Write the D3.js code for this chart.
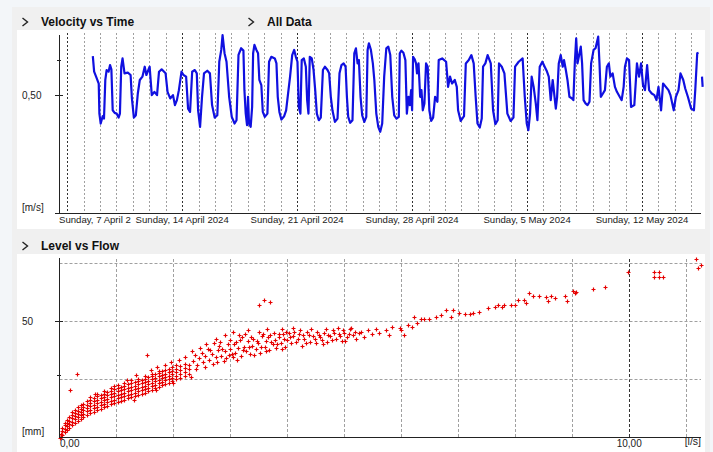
<!DOCTYPE html>
<html>
<head>
<meta charset="utf-8">
<script src="https://cdn.jsdelivr.net/npm/d3@7"></script>
<style>
  body { margin: 0; background: #f3f6f9; }
  svg { display: block; font-family: "Liberation Sans", Arial, sans-serif; }
</style>
</head>
<body>
<script>
// velocity series: days since Sunday 7 April 2024 00:00, value in m/s (null = gap)
var velocityDay = [
  1.56,1.64,1.80,1.92,1.96,2.04,2.16,2.24,2.32,2.40,2.52,2.61,2.69,2.77,2.89,3.01,3.13,3.21,3.29,3.37,
  3.49,3.69,3.86,3.94,4.06,4.18,4.30,4.42,4.58,4.72,4.82,5.02,5.15,5.31,5.47,5.59,5.75,5.99,6.11,6.27,
  6.44,6.56,6.68,6.80,6.96,7.08,7.24,7.36,7.48,7.61,7.77,7.89,7.97,8.09,8.21,8.33,8.53,8.69,8.82,8.98,
  9.14,9.26,9.38,9.46,9.58,9.70,9.86,10.02,10.19,10.31,10.43,10.59,
  10.73,10.79,10.87,10.95,11.01,11.07,11.17,11.26,11.32,11.40,11.52,11.62,11.70,11.82,11.91,12.03,12.19,
  12.29,12.43,12.64,12.74,12.82,12.92,13.04,13.21,13.33,13.45,13.57,13.70,13.82,13.92,14.02,14.10,14.20,
  14.28,14.41,14.53,14.61,14.69,14.77,14.89,15.00,15.10,15.20,15.32,15.44,15.57,15.69,15.85,15.95,16.05,
  16.15,16.30,16.46,16.58,16.70,16.83,16.95,17.03,17.11,17.23,17.37,17.48,17.58,17.68,17.76,17.86,17.96,
  18.09,18.21,18.29,18.37,18.49,18.61,18.70,18.82,18.94,19.06,19.18,19.30,19.43,19.55,19.67,19.79,19.91,
  20.05,20.19,
  20.25,20.35,20.47,20.59,20.68,20.78,20.86,20.94,21.00,21.06,21.16,21.24,21.30,21.39,21.49,21.57,21.65,
  21.75,21.85,21.95,22.05,22.16,22.28,22.40,22.54,22.62,22.83,23.07,23.19,23.31,23.43,23.60,23.72,23.80,
  23.96,24.16,24.27,24.45,24.61,24.75,24.87,24.98,25.12,25.24,25.32,25.46,25.60,25.79,25.93,26.07,26.21,
  26.29,26.46,26.62,26.80,27.00,27.17,27.27,27.49,27.73,27.86,27.98,28.08,28.18,28.28,28.40,28.53,28.63,
  28.77,28.93,29.07,29.19,29.32,29.44,29.56,29.75,
  29.83,29.93,30.05,30.17,30.25,30.36,30.46,30.58,30.74,30.82,30.91,30.99,31.07,31.15,31.27,31.35,31.44,
  31.56,31.68,31.80,31.90,32.05,32.17,32.33,32.41,32.49,32.62,32.74,32.86,32.98,33.07,33.21,33.35,33.47,
  33.64,33.76,33.88,33.96,34.08,34.21,34.33,34.53,34.69,34.82,34.94,35.06,35.18,35.31,35.43,35.59,35.75,
  35.88,36.00,36.16,36.28,36.45,36.61,36.73,36.93,37.06,37.22,37.34,37.51,37.63,37.79,37.99,38.16,38.24,
  38.36,38.44,38.55,38.65,38.69
];
var velocity = [
  .665,.599,.571,.549,.422,.380,.411,.401,.564,.606,.599,.627,.609,.436,.425,.422,.405,.422,.620,.655,
  .592,.595,.585,.486,.405,.415,.507,.564,.578,.620,.585,.620,.500,.514,.500,.599,.609,.592,.514,.486,
  .500,.458,.479,.521,.599,.585,.578,.443,.429,.599,.606,.592,.436,.366,.493,.592,.603,.592,.458,.405,
  .415,.641,.691,.754,.677,.641,.493,.408,.380,.394,.670,.698,
  .688,.521,.422,.373,.493,.380,.366,.450,.677,.712,.691,.677,.564,.542,.429,.408,.422,
  .641,.662,.655,.634,.493,.429,.397,.411,.436,.507,.578,.669,.691,.662,.641,.450,.422,
  .648,.655,.620,.479,.422,.662,.655,.606,.521,.422,.394,.405,.606,.620,.606,.592,.493,
  .436,.387,.401,.592,.627,.634,.620,.493,.408,.383,.394,.677,.698,.634,.648,.493,.415,
  .387,.408,.691,.719,.691,.634,.564,.422,.366,.345,.380,.578,.698,.705,.670,.493,.415,
  .401,.408,
  .677,.688,.679,.648,.422,.493,.458,.521,.436,.662,.651,.634,.592,.634,.493,.521,.436,
  .465,.634,.620,.436,.391,.405,.493,.472,.648,.655,.641,.535,.578,.549,.564,.535,.436,
  .391,.411,.634,.648,.669,.634,.493,.380,.363,.401,.620,.634,.669,.634,.436,.377,.394,
  .634,.620,.592,.422,.391,.405,.620,.641,.655,.493,.380,.352,.422,.578,.535,.465,.394,
  .620,.641,.620,.603,.578,.479,.564,.443,
  .493,.634,.669,.620,.648,.606,.564,.493,.486,.479,.641,.740,.634,.662,.705,.634,.479,
  .465,.458,.472,.634,.691,.698,.747,.634,.493,.507,.521,.620,.634,.578,.592,.535,.514,
  .493,.479,.535,.620,.655,.648,.450,.458,.634,.578,.634,.542,.521,.627,.521,.507,.500,
  .479,.535,.436,.549,.535,.521,.500,.436,.493,.521,.592,.564,.528,.493,.443,.436,.521,
  .677,.679,null,.578,.535
];
var timeDomain = ["2024-04-06 12:45", "2024-05-15 20:00"];
var velocityTicks = [0.5];
var velocityMinorTicks = [0.65];

// level vs flow scatter: dense band as [flow, [levels]] columns, rest as [flow, level]
var denseColumns = [
  [0.00,[0.0]],
  [0.02,[0.4,1.6]],
  [0.05,[1.2,2.8,4.1]],
  [0.09,[2.3,3.7,5.2,6.4]],
  [0.13,[3.4,4.9,6.3,7.6]],
  [0.17,[4.2,5.8,7.1,8.7]],
  [0.22,[5.3,6.7,8.2,9.6,10.8]],
  [0.27,[6.2,7.8,9.1,10.7,12.0]],
  [0.32,[7.1,8.6,10.2,11.6,12.9]],
  [0.37,[8.0,9.5,11.1,12.4,13.8]],
  [0.42,[8.8,10.3,11.8,13.2,14.6]],
  [0.48,[9.6,11.2,12.6,14.1,15.5]],
  [0.54,[10.4,11.9,13.4,14.8,16.2,17.3]],
  [0.60,[11.1,12.6,14.1,15.6,17.0]],
  [0.66,[11.8,13.3,14.7,16.2,17.7,18.6]],
  [0.72,[12.4,13.9,15.3,16.8,18.3]],
  [0.78,[13.0,14.6,16.0,17.5,18.9,19.8]],
  [0.84,[13.6,15.1,16.6,18.1,19.6]],
  [0.90,[14.2,15.7,17.2,18.7,20.1,21.2]],
  [0.96,[14.7,16.2,17.7,19.2,20.7]],
  [1.02,[15.2,16.8,18.3,19.8,21.3,22.4]],
  [1.08,[15.8,17.3,18.8,20.3,21.8]],
  [1.14,[16.3,17.8,19.3,20.8,22.3,23.4]],
  [1.20,[16.8,18.3,19.8,21.3,22.8]],
  [1.26,[17.3,18.8,20.3,21.9,23.4,24.5]],
  [1.32,[17.8,19.3,20.8,22.3,23.8]],
  [1.38,[18.3,19.8,21.3,22.8,24.3,25.3]],
  [1.44,[18.8,20.3,21.8,23.3,24.8]],
  [1.50,[19.3,20.8,22.3,23.8,25.3,26.3]],
  [1.56,[19.9,21.4,22.9,24.4,25.9]],
  [1.62,[20.5,22.0,23.5,25.0,26.5,27.4]],
  [1.68,[21.1,22.6,24.1,25.6,27.1]],
  [1.74,[21.8,23.3,24.8,26.3,27.8,28.6]],
  [1.80,[22.4,23.9,25.4,26.9,28.4]],
  [1.86,[23.0,24.5,26.0,27.5,29.0]],
  [1.92,[23.6,25.1,26.6,28.1,29.6]],
  [1.98,[24.2,25.7,27.2,28.7,30.2]],
  [2.05,[25.0,26.5,28.0,29.5,31.0]],
  [2.12,[25.7,27.4,29.0,30.6]],
  [2.20,[26.6,28.3,29.9,31.6]],
  [2.28,[27.4,29.4,31.3]]
];
var sparsePoints = [
  [0.18,20.3],[0.31,27.2],[0.62,18.6],[0.95,22.3],[1.18,24.6],[1.35,26.8],[1.53,35.3],[1.60,28.9],
  [1.72,30.4],[1.85,31.3],[1.95,32.6],[2.10,33.4],[2.20,34.5],[1.30,16.2],[1.70,20.5],[2.00,23.4],[2.30,25.8],
  [2.35,33],[2.38,35.5],[2.42,31],[2.45,34],[2.50,36.5],[2.52,32.5],[2.56,35],[2.60,38],[2.63,33.5],
  [2.67,36],[2.70,31.5],[2.74,34.5],[2.78,37.5],[2.80,39.5],[2.84,35],[2.88,33],[2.90,37],[2.95,40],
  [2.97,35.5],[3.00,38],[3.04,34.5],[3.08,36.5],[3.10,41],[3.14,38.5],[3.18,35],[3.20,43],[3.24,39],
  [3.27,37],[3.30,41.5],[3.34,36],[3.38,39.5],[3.40,42.5],[3.45,38],[3.48,40.5],[3.52,36.5],[3.55,43.5],
  [3.60,39],[3.63,41.5],[3.67,37.5],[3.70,44],[3.74,40],[3.78,42],[3.80,38.5],[3.85,43],[3.88,40.5],
  [3.92,44.5],[3.95,39],[4.00,42],[4.03,45],[4.07,40.5],[4.10,43.5],[4.15,41],[4.20,44.5],[4.25,39.5],
  [4.30,42.5],[4.35,45.5],[4.40,41],[4.45,43.5],[4.50,40.5],[4.55,44],
  [2.33,37],[2.40,29.5],[2.47,38.5],[2.55,30.5],[2.58,40],[2.65,37.5],[2.72,40.5],[2.77,32.5],[2.82,41],
  [2.86,38],[2.93,34],[2.99,42],[3.02,36],[3.06,40],[3.12,33.5],[3.16,42],[3.22,37.5],[3.26,44.5],
  [3.32,39],[3.36,43],[3.42,35.5],[3.46,41.5],[3.53,39],[3.58,44.5],[3.62,37],[3.66,43],[3.72,41],
  [3.76,45],[3.82,40],[3.86,44.5],[3.90,38],[3.94,42.5],[3.98,45.5],[4.05,43],[4.12,45.5],[4.18,42.5],
  [4.22,46],[4.28,44],[4.32,40.5],[4.38,44],[4.42,46.5],[4.48,42.5],[4.52,45.5],[4.58,43],[4.62,40],
  [4.68,46.5],[4.72,44],[4.78,42],[4.82,45],[4.88,47],[4.92,43.5],[4.98,46],[5.02,41.5],[5.08,44.5],
  [5.12,47],[5.18,45.5],
  [2.75,42.5],[2.90,44],[3.05,45.5],[3.15,44],[3.30,46],[3.50,45.5],[3.65,46.5],[3.90,46.5],[4.10,47],
  [3.50,56.9],[3.59,59.1],[3.69,58.2],
  [4.60,42],[4.65,45],[4.70,41],[4.75,43.5],[4.80,46],[4.85,42.5],[4.90,44.5],[4.95,41.5],[5.00,45],
  [5.05,43],[5.10,46.5],[5.15,44],[5.20,42.5],
  [5.25,44.8],[5.30,45.3],[5.35,43],[5.41,46],[5.48,44.5],[5.55,46.5],[5.60,45],[5.73,46],[5.78,44],
  [5.83,47.4],[5.97,47],[6.00,46],[6.05,44],[6.11,48.3],[6.18,47.5],[6.23,51.7],[6.27,49],[6.34,50.9],
  [6.40,51],[6.48,51],[6.60,51.7],[6.70,52.6],[6.78,54.7],[6.87,51.7],[6.90,54.7],[7.02,53.6],[7.12,53],
  [7.20,53],[7.26,53.6],[7.37,53.8],[7.52,55.6],[7.64,55.9],[7.69,56.8],[7.76,56],[7.81,56.8],[7.92,56.8],
  [7.99,56.8],[8.05,58.9],[8.15,58.9],[8.18,57.9],[8.24,61.9],[8.31,60.9],[8.41,60.9],[8.54,60.5],
  [8.57,58.8],[8.62,60.9],[8.69,59.8],[8.87,60.9],[8.91,58.8],[9.01,62.9],[9.05,62],[9.07,62.6],
  [9.37,63.8],[9.58,64.8],[9.98,71],[10.44,69.1],[10.44,71],[10.52,69.1],[10.52,71],[10.59,68.8],
  [11.17,76.7],[11.21,73],[11.26,74.1]
];
var flowDomain = [0, 11.26];
var levelDomain = [0, 76.7];
var flowGrid = [1,2,3,4,5,6,7,8,9,10,11];
var flowLabels = [0, 10];
var levelGrid = [25, 50, 75];
var levelLabels = [50];
var levelMinorTicks = [27];

var width = 713, height = 452;
var fmtComma = function(v, n) { return v.toFixed(n).replace(".", ","); };

var svg = d3.select("body").append("svg")
  .attr("width", width)
  .attr("height", height);

// panels
svg.append("rect").attr("x",0).attr("y",0).attr("width",width).attr("height",height).attr("fill","#f3f6f9");
svg.append("rect").attr("x",12).attr("y",7).attr("width",698).attr("height",446).attr("fill","#f0f0f0");
svg.append("rect").attr("x",17).attr("y",30).attr("width",688).attr("height",199).attr("fill","#fff");
svg.append("rect").attr("x",17).attr("y",254).attr("width",688).attr("height",198).attr("fill","#fff");

var headers = [
  {text:"Velocity vs Time", cx:22, tx:41, y:26},
  {text:"All Data", cx:248, tx:267, y:26},
  {text:"Level vs Flow", cx:22, tx:41, y:250}
];
headers.forEach(function(h) {
  svg.append("polyline")
    .attr("points", [[h.cx+0.5,h.y-8],[h.cx+5.5,h.y-4],[h.cx+0.5,h.y]].join(" "))
    .attr("fill","none").attr("stroke","#222").attr("stroke-width",1.4);
  svg.append("text").attr("x",h.tx).attr("y",h.y)
    .attr("font-size","12px").attr("font-weight","bold").attr("fill","#111")
    .text(h.text);
});

// ---- velocity vs time ----
var parse = d3.timeParse("%Y-%m-%d %H:%M");
var day0 = new Date(2024, 3, 7);
var timeScale = d3.scaleTime()
  .domain(timeDomain.map(parse))
  .range([59.5, 705]);
var velScale = d3.scaleLinear()
  .domain([0, 0.754])
  .range([213.5, 35]);

var days = d3.timeDay.range(d3.timeDay.ceil(timeScale.domain()[0]), timeScale.domain()[1]);
svg.selectAll(".dayGrid")
  .data(days)
  .enter()
  .append("line")
  .attr("class","dayGrid")
  .attr("x1", function(d) { return Math.round(timeScale(d)) + 0.5; })
  .attr("x2", function(d) { return Math.round(timeScale(d)) + 0.5; })
  .attr("y1", 33)
  .attr("y2", 213)
  .attr("stroke", function(d) { return d.getDay() === 0 ? "#333" : "#a0a0a0"; })
  .attr("stroke-dasharray", "2,2");

var velData = velocityDay.map(function(d, i) {
  return {t: d3.timeMinute.offset(day0, Math.round(d * 1440)), v: velocity[i]};
});
var velLine = d3.line()
  .defined(function(d) { return d.v != null; })
  .x(function(d) { return timeScale(d.t); })
  .y(function(d) { return velScale(d.v); });
svg.append("path")
  .datum(velData)
  .attr("d", velLine)
  .attr("fill","none")
  .attr("stroke","#1010e0")
  .attr("stroke-width",2.2)
  .attr("stroke-linejoin","round");

// axes
svg.append("line").attr("x1",59.5).attr("x2",59.5).attr("y1",35).attr("y2",213.5).attr("stroke","#222");
svg.append("line").attr("x1",55).attr("x2",701).attr("y1",213.5).attr("y2",213.5).attr("stroke","#222");
velocityTicks.forEach(function(v) {
  var y = Math.round(velScale(v)) + 0.5;
  svg.append("line").attr("x1",55).attr("x2",63).attr("y1",y).attr("y2",y).attr("stroke","#222");
  svg.append("text").attr("x",22).attr("y",y+3.5).attr("font-size","10px").attr("fill","#222").text(fmtComma(v,2));
});
velocityMinorTicks.forEach(function(v) {
  var y = Math.round(velScale(v)) + 0.5;
  svg.append("line").attr("x1",57).attr("x2",61).attr("y1",y).attr("y2",y).attr("stroke","#222");
});
svg.append("text").attr("x",22).attr("y",211).attr("font-size","10px").attr("fill","#222").text("[m/s]");

var sundays = d3.timeSunday.range(d3.timeDay.ceil(timeScale.domain()[0]), timeScale.domain()[1]);
var fmtDate = d3.timeFormat("%A, %-d %B %Y");
var labels = svg.selectAll(".dateLabel")
  .data(sundays)
  .enter()
  .append("text")
  .attr("class","dateLabel")
  .attr("x", function(d) { return timeScale(d); })
  .attr("y", 223)
  .attr("text-anchor","middle")
  .attr("font-size","9.6px")
  .attr("fill","#222")
  .text(fmtDate);
var lefts = [];
labels.each(function() {
  var w = this.getComputedTextLength();
  var x = +this.getAttribute("x");
  if (x - w / 2 < 59) {
    d3.select(this).attr("x", 59).attr("text-anchor","start");
    lefts.push(59);
  } else {
    lefts.push(x - w / 2);
  }
});
// a label that runs into the next one is cut short, as in the source chart
labels.each(function(d, i) {
  if (i + 1 < lefts.length) {
    var t = d3.select(this), s = t.text();
    while (s.length > 1 && lefts[i] + this.getComputedTextLength() > lefts[i + 1] + 0.5) {
      s = s.slice(0, -1);
      t.text(s);
    }
  }
});

// ---- level vs flow ----
var flowScale = d3.scaleLinear().domain(flowDomain).range([59.5, 701]);
var levelScale = d3.scaleLinear().domain(levelDomain).range([437.5, 259]);

svg.selectAll(".flowGrid")
  .data(flowGrid)
  .enter()
  .append("line")
  .attr("x1", function(d) { return Math.round(flowScale(d)) + 0.5; })
  .attr("x2", function(d) { return Math.round(flowScale(d)) + 0.5; })
  .attr("y1", 259)
  .attr("y2", 437)
  .attr("stroke", function(d) { return d === 10 ? "#333" : "#a0a0a0"; })
  .attr("stroke-dasharray","3,2");
svg.selectAll(".levelGrid")
  .data(levelGrid)
  .enter()
  .append("line")
  .attr("x1", 59.5)
  .attr("x2", 701)
  .attr("y1", function(d) { return Math.round(levelScale(d)) + 0.5; })
  .attr("y2", function(d) { return Math.round(levelScale(d)) + 0.5; })
  .attr("stroke","#a0a0a0")
  .attr("stroke-dasharray","3,2");

var scatter = sparsePoints.slice();
denseColumns.forEach(function(c) {
  c[1].forEach(function(l) { scatter.push([c[0], l]); });
});
svg.selectAll(".pt")
  .data(scatter)
  .enter()
  .append("path")
  .attr("class","pt")
  .attr("d", function(p) {
    var x = Math.round(flowScale(p[0])) + 0.5, y = Math.round(levelScale(p[1])) + 0.5;
    return "M" + (x - 2) + "," + y + "h4M" + x + "," + (y - 2) + "v4";
  })
  .attr("stroke","#e60000")
  .attr("stroke-width",1.2)
  .attr("fill","none");

svg.append("line").attr("x1",59.5).attr("x2",59.5).attr("y1",258).attr("y2",437.5).attr("stroke","#222");
svg.append("line").attr("x1",59).attr("x2",701).attr("y1",437.5).attr("y2",437.5).attr("stroke","#222");
levelLabels.forEach(function(v) {
  var y = Math.round(levelScale(v)) + 0.5;
  svg.append("line").attr("x1",55).attr("x2",63).attr("y1",y).attr("y2",y).attr("stroke","#222");
  svg.append("text").attr("x",22).attr("y",y+3.5).attr("font-size","10px").attr("fill","#222").text(v);
});
levelMinorTicks.forEach(function(v) {
  var y = Math.round(levelScale(v)) + 0.5;
  svg.append("line").attr("x1",57).attr("x2",61).attr("y1",y).attr("y2",y).attr("stroke","#222");
});
svg.append("text").attr("x",22).attr("y",435).attr("font-size","10px").attr("fill","#222").text("[mm]");
flowLabels.forEach(function(v) {
  var x = flowScale(v);
  svg.append("text")
    .attr("x", v === 0 ? 60 : x)
    .attr("y", 447)
    .attr("text-anchor", v === 0 ? "start" : "middle")
    .attr("font-size","10px").attr("fill","#222")
    .text(fmtComma(v,2));
});
svg.append("text").attr("x",701).attr("y",445).attr("text-anchor","end")
  .attr("font-size","10.5px").attr("fill","#222").text("[l/s]");
</script>
</body>
</html>
